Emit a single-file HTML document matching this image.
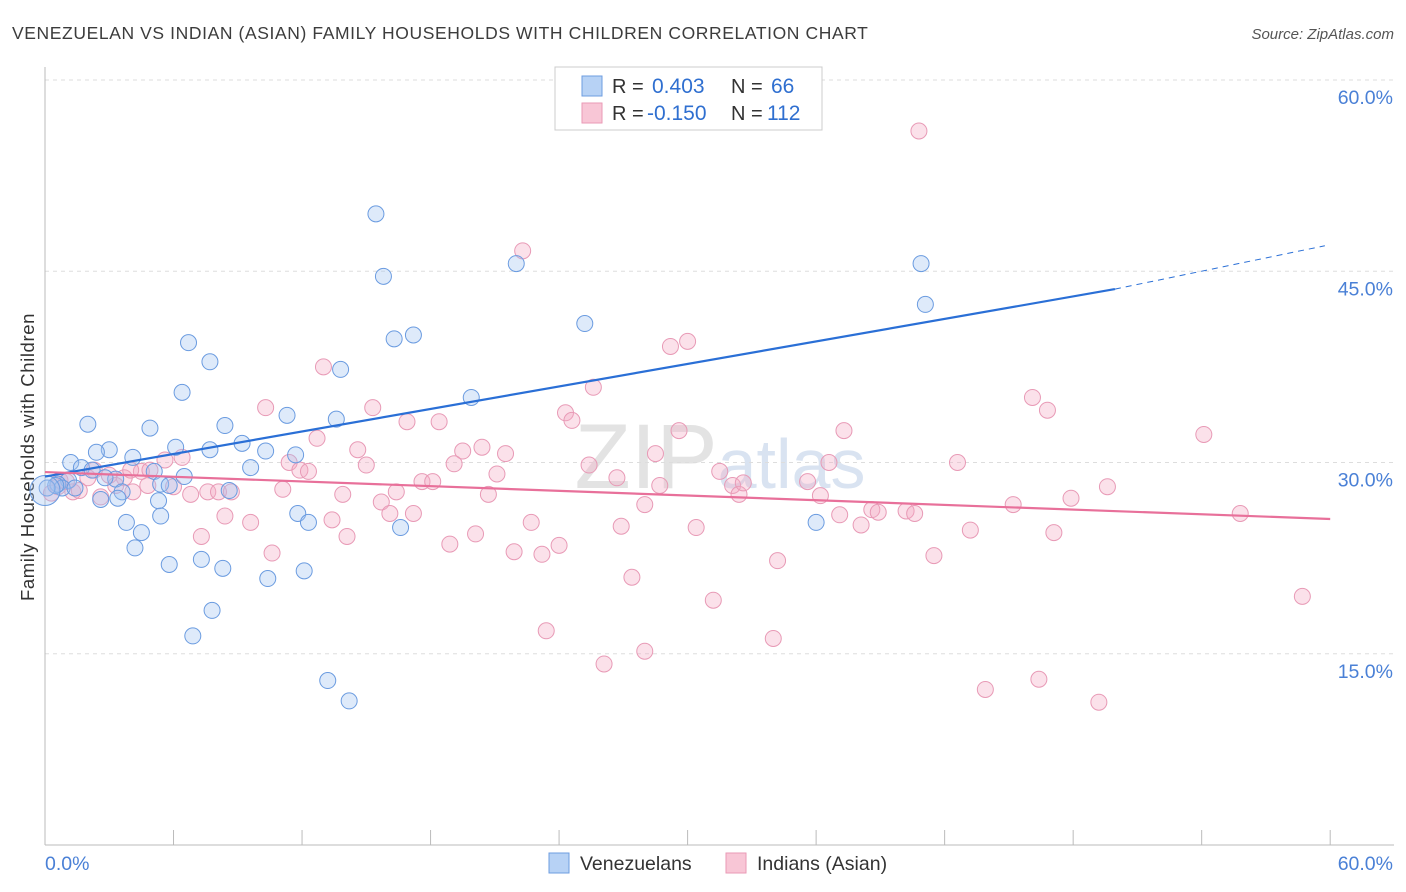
<!DOCTYPE html>
<html><head><meta charset="utf-8"><style>
body{margin:0;background:#fff;font-family:"Liberation Sans",sans-serif}
#wrap{position:relative;width:1406px;height:892px;overflow:hidden}
svg text{font-family:"Liberation Sans",sans-serif}
</style></head><body>
<div id="wrap">
<svg id="chart" width="1406" height="892">
<text x="12" y="39" font-size="17.5" letter-spacing="0.6" fill="#3c3c3c">VENEZUELAN VS INDIAN (ASIAN) FAMILY HOUSEHOLDS WITH CHILDREN CORRELATION CHART</text>
<text x="1394" y="39" font-size="15" fill="#555" font-style="italic" text-anchor="end">Source: ZipAtlas.com</text>
<text x="720" y="488" font-size="92" fill="#e3e3e3" text-anchor="middle" font-family="Liberation Serif">ZIP<tspan fill="#d9e3f1" font-family="Liberation Sans" font-size="70">atlas</tspan></text>
<text transform="translate(34,457) rotate(-90)" font-size="18.5" letter-spacing="0.6" fill="#333" text-anchor="middle">Family Households with Children</text>
<g id="grid"></g><g id="pts"></g><g id="lines"></g>
<g>
<rect x="555" y="67" width="267" height="63" fill="#fff" stroke="#ccc"/>
<rect x="582" y="76" width="20" height="20" fill="#b7d2f5" stroke="#6e9de0"/>
<rect x="582" y="103" width="20" height="20" fill="#f8c6d6" stroke="#ea9ab6"/>
<text x="612" y="93" font-size="20" fill="#333">R =</text>
<text x="652" y="93" font-size="21" fill="#2f6fd0">0.403</text>
<text x="731" y="93" font-size="20" fill="#333">N =</text>
<text x="771" y="93" font-size="21" fill="#2f6fd0">66</text>
<text x="612" y="120" font-size="20" fill="#333">R =</text>
<text x="647" y="120" font-size="21" fill="#2f6fd0">-0.150</text>
<text x="731" y="120" font-size="20" fill="#333">N =</text>
<text x="767" y="120" font-size="21" fill="#2f6fd0">112</text>
</g>
<g>
<rect x="549" y="853" width="20" height="20" fill="#b7d2f5" stroke="#6e9de0"/>
<text x="580" y="870" font-size="19.5" fill="#333">Venezuelans</text>
<rect x="726" y="853" width="20" height="20" fill="#f8c6d6" stroke="#ea9ab6"/>
<text x="757" y="870" font-size="19.5" fill="#333">Indians (Asian)</text>
</g>
</svg></div>
<script>
const yTicks=[15,30,45,60];
const yTickLabels=["15.0%","30.0%","45.0%","60.0%"];
const xEdgeLabels=["0.0%","60.0%"];
const blueX=[15.45,15.8,22.0,40.9,41.1,25.2,17.2,16.3,6.7,7.7,13.8,6.4,19.9,2.0,4.9,8.4,13.6,11.3,6.1,7.7,9.2,10.3,11.7,3.0,2.4,4.1,1.2,1.7,2.2,5.1,6.5,9.6,1.1,0.6,0.8,3.3,3.6,5.4,5.8,8.6,2.6,3.4,5.3,5.4,3.8,4.5,11.8,12.3,16.6,4.2,5.8,7.3,8.3,10.4,12.1,7.8,6.9,13.2,14.2,36.0,0.5,1.4,2.8,0.1,0.0];
const blueY=[49.5,44.6,45.6,45.6,42.4,40.9,40.0,39.7,39.4,37.9,37.3,35.5,35.1,33.0,32.7,32.9,33.4,33.7,31.2,31.0,31.5,30.9,30.6,31.0,30.8,30.4,30.0,29.6,29.4,29.3,28.9,29.6,28.6,28.3,28.0,28.7,27.7,28.3,28.2,27.8,27.1,27.2,27.0,25.8,25.3,24.5,26.0,25.3,24.9,23.3,22.0,22.4,21.7,20.9,21.5,18.4,16.4,12.9,11.3,25.3,28.2,28.0,28.8,28.0,27.8];
const pinkX=[40.8,22.3,30.0,29.2,13.0,25.6,10.3,15.3,24.3,24.6,16.9,18.4,46.1,46.8,54.1,29.6,37.3,12.7,14.6,19.5,20.4,21.5,28.5,11.4,15.0,19.1,11.9,12.3,25.4,36.6,42.6,31.5,21.1,3.0,3.7,4.5,5.6,6.4,17.6,18.1,26.7,28.7,32.1,35.6,49.6,0.6,1.3,2.0,2.6,4.1,4.8,6.0,6.8,7.6,8.1,8.7,11.1,13.9,16.4,20.7,28.0,32.4,36.2,38.6,38.9,40.2,40.6,47.9,45.2,15.7,16.1,17.2,8.4,9.6,13.4,22.7,26.9,30.4,38.1,43.2,37.1,47.1,55.8,7.3,14.1,20.1,18.9,21.9,23.2,24.0,10.6,41.5,34.2,27.4,31.2,58.7,23.4,34.0,26.1,28.0,43.9,46.4,49.2,32.6,0.7,1.6,2.3,4.0,1.0,3.3,4.9,0.3];
const pinkY=[56.0,46.6,39.5,39.1,37.5,35.9,34.3,34.3,33.9,33.3,33.2,33.2,35.1,34.1,32.2,32.5,32.5,31.9,31.0,30.9,31.2,30.7,30.7,30.0,29.8,29.9,29.4,29.3,29.8,30.0,30.0,29.3,29.1,29.0,28.8,29.3,30.2,30.4,28.5,28.5,28.8,28.2,28.2,28.5,28.1,28.1,27.7,28.8,27.3,27.7,28.2,28.1,27.5,27.7,27.7,27.7,27.9,27.5,27.7,27.5,26.7,27.5,27.4,26.3,26.1,26.2,26.0,27.2,26.7,26.9,26.0,26.0,25.8,25.3,25.5,25.3,25.0,24.9,25.1,24.7,25.9,24.5,26.0,24.2,24.2,24.4,23.6,23.0,22.8,23.5,22.9,22.7,22.3,21.0,19.2,19.5,16.8,16.2,14.2,15.2,12.2,13.0,11.2,28.4,28.6,27.8,29.4,29.4,28.5,28.2,29.4,27.6];
const blueTrend=[[0,28.9],[49.95,43.6]];
const blueTrendExt=[[49.95,43.6],[59.75,47.0]];
const pinkTrend=[[0,29.25],[60,25.57]];
const NS="http://www.w3.org/2000/svg";
function sx(v){return 45+v*21.42;}
function sy(v){return 845-v*12.75;}
function mk(tag,attrs,parent){const e=document.createElementNS(NS,tag);for(const k in attrs)e.setAttribute(k,attrs[k]);parent.appendChild(e);return e;}
const grid=document.getElementById('grid'),pts=document.getElementById('pts'),lines=document.getElementById('lines');
yTicks.forEach((t,i)=>{
 const l=mk('line',{x1:45,x2:1394,y1:sy(t),y2:sy(t),stroke:'#ddd','stroke-dasharray':'4,4'},grid);
 
 
 const tx=mk('text',{x:1393,y:sy(t)+24,'font-size':19.5,fill:'#4a80d6','text-anchor':'end'},grid);
 tx.textContent=yTickLabels[i];
 
 
});
const ax=mk('line',{x1:45,x2:1394,y1:845,y2:845,stroke:'#bbb'},grid);


const ay=mk('line',{x1:45,x2:45,y1:67,y2:845,stroke:'#bbb'},grid);


for(let i=0;i<=10;i++){
 const v=i*6;
 const tk=mk('line',{x1:sx(v),x2:sx(v),y1:830,y2:845,stroke:'#bbb'},grid);
 
 
}
[[0,'start'],[60,'end']].forEach((p,i)=>{
 const tx=mk('text',{x:i?1393:45,y:870,'font-size':19.5,fill:'#4a80d6','text-anchor':p[1]},grid);
 tx.textContent=xEdgeLabels[i];
 
 
});
pinkX.forEach((x,i)=>{
 const c=mk('circle',{cx:sx(x),cy:sy(pinkY[i]),r:8,fill:'rgba(244,170,196,0.35)',stroke:'#e89ab6','stroke-width':1},pts);
 
 
});
blueX.forEach((x,i)=>{
 const big=(i===blueX.length-1);
 const c=mk('circle',{cx:sx(x),cy:sy(blueY[i]),r:big?15:8,fill:'rgba(160,196,240,0.35)',stroke:'#6a9be0','stroke-width':1},pts);
 
 
});
const bl=mk('line',{x1:sx(blueTrend[0][0]),y1:sy(blueTrend[0][1]),x2:sx(blueTrend[1][0]),y2:sy(blueTrend[1][1]),stroke:'#2a6fd6','stroke-width':2.2},lines);


const bd=mk('line',{x1:sx(blueTrendExt[0][0]),y1:sy(blueTrendExt[0][1]),x2:sx(blueTrendExt[1][0]),y2:sy(blueTrendExt[1][1]),stroke:'#2a6fd6','stroke-width':1,'stroke-dasharray':'6,5'},lines);


const pl=mk('line',{x1:sx(pinkTrend[0][0]),y1:sy(pinkTrend[0][1]),x2:sx(pinkTrend[1][0]),y2:sy(pinkTrend[1][1]),stroke:'#e8709a','stroke-width':2.2},lines);


</script>
</body></html>
